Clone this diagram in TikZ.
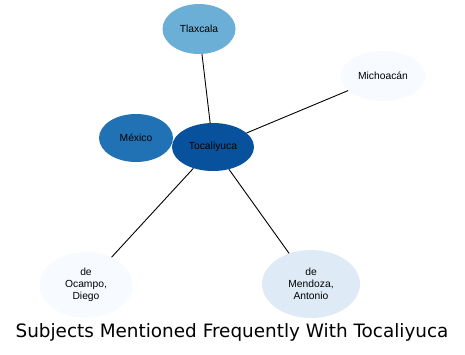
\documentclass[tikz,border=0pt]{standalone}
\usepackage{fontspec}
\setmainfont{Liberation Sans}
\newfontfamily\titlefont{DejaVu Sans}
\usetikzlibrary{shapes.geometric}
\definecolor{blueA}{HTML}{08519C}
\definecolor{blueB}{HTML}{2171B5}
\definecolor{blueC}{HTML}{6BAED6}
\definecolor{blueD}{HTML}{DEEBF7}
\definecolor{blueE}{HTML}{F7FBFF}
\begin{document}
\begin{tikzpicture}[x=1pt,y=-1pt,
  subj/.style={ellipse,inner sep=0pt,align=center,
    font=\fontsize{10.3}{12}\selectfont},
  link/.style={draw=black,line width=0.9pt}]
\useasboundingbox (0,0) rectangle (465,354);
\node[subj,fill=blueA,minimum width=82,minimum height=48] (toca) at (213,147) {Tocaliyuca};
\node[subj,fill=blueB,minimum width=74,minimum height=48] (mexico) at (136,138) {México};
\node[subj,fill=blueC,minimum width=73,minimum height=50] (tlax) at (199,29) {Tlaxcala};
\node[subj,fill=blueE,minimum width=85,minimum height=50] (mich) at (383,76) {Michoacán};
\node[subj,fill=blueE,minimum width=93,minimum height=66] (ocampo) at (86,285) {de\\Ocampo,\\Diego};
\node[subj,fill=blueD,minimum width=98,minimum height=68] (mendoza) at (311,284) {de\\Mendoza,\\Antonio};
\draw[link] (toca) -- (tlax);
\draw[link] (toca) -- (mich);
\draw[link] (toca) -- (mexico);
\draw[link] (toca) -- (ocampo);
\draw[link] (toca) -- (mendoza);
\node[font=\titlefont\fontsize{18.4}{20}\selectfont] (title) at (232,332) {Subjects Mentioned Frequently With Tocaliyuca};
\end{tikzpicture}
\end{document}
